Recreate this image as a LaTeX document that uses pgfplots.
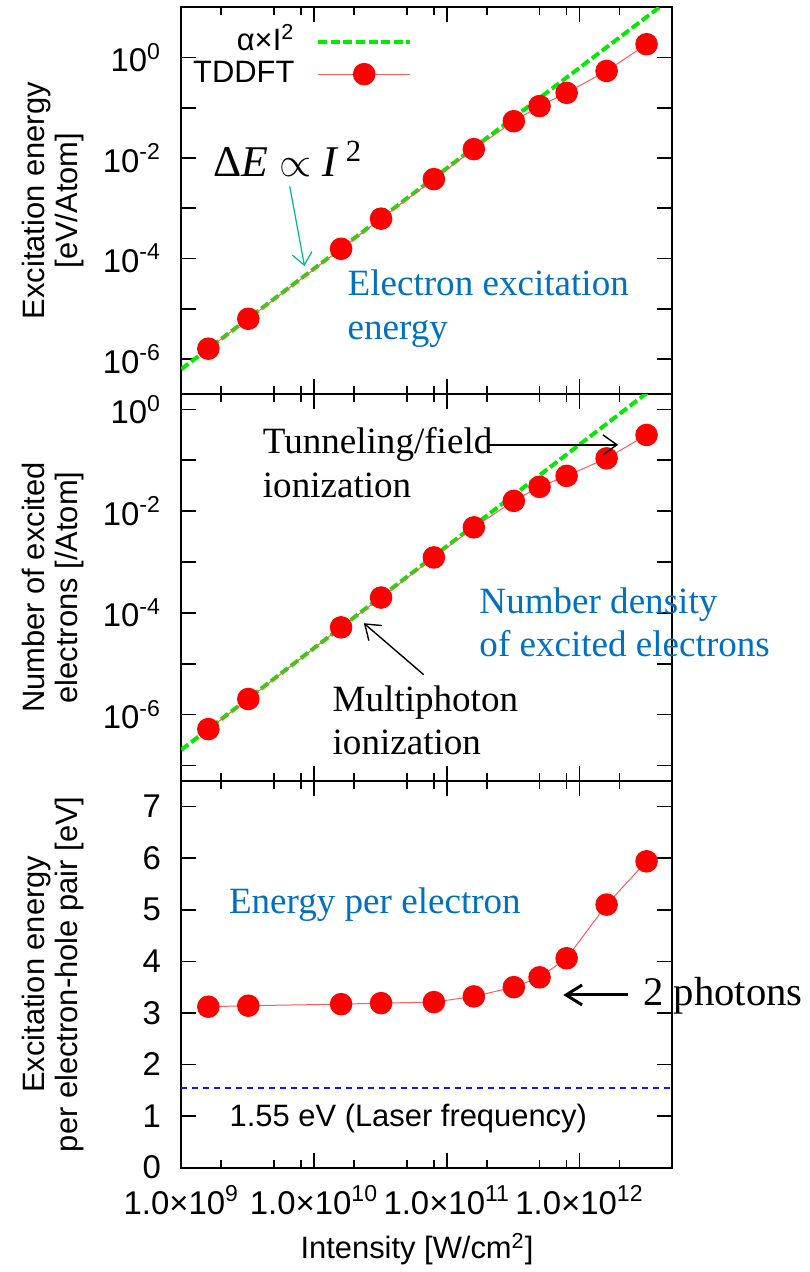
\documentclass[border=0pt]{standalone}
\usepackage{fontspec}
\setmainfont{Liberation Sans}
\newfontfamily\serif{Liberation Serif}
\usepackage{pgfplots}
\pgfplotsset{compat=1.18}
\usetikzlibrary{arrows.meta}

\definecolor{tdred}{RGB}{255,0,0}
\definecolor{tdline}{RGB}{255,90,90}
\definecolor{fitgreen}{RGB}{0,235,0}
\definecolor{annblue}{RGB}{0,112,192}
\definecolor{annteal}{RGB}{0,180,140}
\definecolor{laserblue}{RGB}{20,20,255}

\pgfplotsset{
  every axis/.append style={
    scale only axis, width=246.3pt, height=194pt,
    xmin=1e9, xmax=5e12,
    xtick={1e9,1e10,1e11,1e12},
    minor xtick={2e9,5e9,8e9,2e10,5e10,8e10,2e11,5e11,8e11,2e12},
    tick align=inside,
    major tick length=7.5pt, minor tick length=4pt,
    tick style={black, line width=0.8pt},
    axis line style={line width=1pt},
    yminorticks=false,
    clip mode=individual,
    tick label style={font=\fontsize{16.5}{18}\selectfont},
    label style={font=\fontsize{15.5}{16.5}\selectfont},
    yticklabel style={inner sep=0pt, xshift=-10pt},
    ylabel style={at={(axis description cs:-0.261,0.5)}, anchor=center, align=center},
  },
  fitline/.style={fitgreen, line width=2pt, dash pattern=on 4.5pt off 1.8pt, mark=none},
  tddft/.style={tdline, line width=0.5pt, mark=*, mark size=5.4pt,
    mark options={solid, fill=tdred, draw=tdred}},
}

\newcommand{\ann}{\serif\fontsize{18.6}{22}\selectfont}

\begin{document}
\begin{tikzpicture}

% ---- panel 1: excitation energy ----
\begin{axis}[xmode=log, ymode=log, at={(0,388pt)}, anchor=south west,
  ymin=2e-7, ymax=10,
  ytick={1e-6,1e-5,1e-4,1e-3,1e-2,1e-1,1},
  yticklabels={10\textsuperscript{-6},,10\textsuperscript{-4},,10\textsuperscript{-2},,10\textsuperscript{0}},
  xticklabels={,,,},
  ylabel={Excitation energy\\\relax [eV/Atom]},
  legend plot pos=right,
  legend cell align=right,
  legend style={draw=none, fill=none, at={(axis description cs:0.483,0.957)}, anchor=north east,
    font=\fontsize{15.5}{17}\selectfont,
    nodes={inner sep=0pt, text height=11pt, text depth=3pt}, cells={anchor=east},
    row sep=2pt, column sep=11pt},
  legend image code/.code={\draw[mark repeat=2,mark phase=2,#1] plot coordinates {(0pt,0pt) (23pt,0pt) (46pt,0pt)};},
]
\addplot[fitline] coordinates {(1e9,6.25e-7) (5e12,15.625)};
\addlegendentry{α×I\textsuperscript{2}}
\addplot[tddft] coordinates {
 (1.6e9,1.6e-6) (3.2e9,6.3e-6) (1.6e10,1.56e-4) (3.2e10,6.2e-4) (8e10,3.8e-3)
 (1.6e11,1.5e-2) (3.2e11,5.4e-2) (5e11,0.108) (8e11,0.198) (1.6e12,0.54) (3.2e12,1.84)};
\addlegendentry{TDDFT}
\node[anchor=base west, font=\serif\fontsize{22}{26}\selectfont] at (axis description cs:0.0505,0.563)
  {Δ\textit{E} $\propto$ \textit{I}\,\textsuperscript{2}};
\draw[annteal, line width=0.6pt, -{Straight Barb[length=6pt,width=10pt]}]
  (axis description cs:0.221,0.537) -- (axis description cs:0.251,0.331);
\node[anchor=base west, font=\ann, text=annblue] at (axis description cs:0.3246,0.255) {Electron excitation};
\node[anchor=base west, font=\ann, text=annblue] at (axis description cs:0.3246,0.142) {energy};
\end{axis}

% ---- panel 2: number of excited electrons ----
\begin{axis}[xmode=log, ymode=log, at={(0,194pt)}, anchor=south west,
  ymin=5e-8, ymax=2,
  ytick={1e-7,1e-6,1e-5,1e-4,1e-3,1e-2,1e-1,1},
  yticklabels={,10\textsuperscript{-6},,10\textsuperscript{-4},,10\textsuperscript{-2},,10\textsuperscript{0}},
  xticklabels={,,,},
  ylabel={Number of excited\\electrons [/Atom]},
]
\addplot[fitline] coordinates {(1e9,2.03e-7) (5e12,5.075)};
\addplot[tddft] coordinates {
 (1.6e9,5.2e-7) (3.2e9,2.03e-6) (1.6e10,5.2e-5) (3.2e10,2.0e-4) (8e10,1.23e-3)
 (1.6e11,4.8e-3) (3.2e11,1.59e-2) (5e11,3.0e-2) (8e11,4.93e-2) (1.6e12,0.109) (3.2e12,0.314)};
\node[anchor=base west, font=\ann] at (axis description cs:0.152,0.8455) {Tunneling/field};
\node[anchor=base west, font=\ann] at (axis description cs:0.152,0.732) {ionization};
\draw[black, line width=0.7pt, -{Straight Barb[length=7pt,width=10pt]}]
  (axis description cs:0.622,0.8687) -- (axis description cs:0.8896,0.8687);
\node[anchor=base west, font=\ann] at (axis description cs:0.294,0.180) {Multiphoton};
\node[anchor=base west, font=\ann] at (axis description cs:0.294,0.0685) {ionization};
\draw[black, line width=0.7pt, -{Straight Barb[length=7pt,width=10pt]}]
  (axis description cs:0.4937,0.2745) -- (axis description cs:0.3719,0.4076);
\node[anchor=base west, font=\ann, text=annblue] at (axis description cs:0.593,0.4334) {Number density};
\node[anchor=base west, font=\ann, text=annblue] at (axis description cs:0.593,0.322) {of excited electrons};
\end{axis}

% ---- panel 3: energy per electron-hole pair ----
\begin{axis}[xmode=log, at={(0,0)}, anchor=south west,
  ymin=0, ymax=7.5, ytick={0,1,2,3,4,5,6,7},
  yticklabels={0,1,2,3,4,5,6,7},
  xticklabels={1.0×10\textsuperscript{9},1.0×10\textsuperscript{10},1.0×10\textsuperscript{11},1.0×10\textsuperscript{12}},
  xticklabel style={anchor=base, yshift=-23.3pt},
  ylabel={Excitation energy\\per electron-hole pair [eV]},
  xlabel={Intensity [W/cm\textsuperscript{2}]},
  xlabel style={at={(axis description cs:0.48,0)}, anchor=base, yshift=-45.8pt},
]
\addplot[draw=laserblue, line width=0.9pt, dash pattern=on 3pt off 2.5pt, mark=none] coordinates {(1e9,1.55) (5e12,1.55)};
\addplot[tddft] coordinates {
 (1.6e9,3.12) (3.2e9,3.14) (1.6e10,3.17) (3.2e10,3.19) (8e10,3.21)
 (1.6e11,3.32) (3.2e11,3.50) (5e11,3.69) (8e11,4.06) (1.6e12,5.10) (3.2e12,5.94)};
\node[anchor=base west, font=\ann, text=annblue] at (axis description cs:0.083,0.6566) {Energy per electron};
\node[anchor=base west, font=\fontsize{15.5}{17}\selectfont] at (axis description cs:0.0843,0.1074) {1.55 eV (Laser frequency)};
\node[anchor=base west, font=\serif\fontsize{20.4}{24}\selectfont] at (axis description cs:0.9268,0.418) {2 photons};
\draw[black, line width=1.5pt, -{Straight Barb[length=8pt,width=10pt]}]
  (axis description cs:0.9099,0.4464) -- (axis description cs:0.778,0.4464);
\end{axis}

\path (-90.9pt,-50.15pt) rectangle (314.6pt,585.65pt);
\end{tikzpicture}
\end{document}
